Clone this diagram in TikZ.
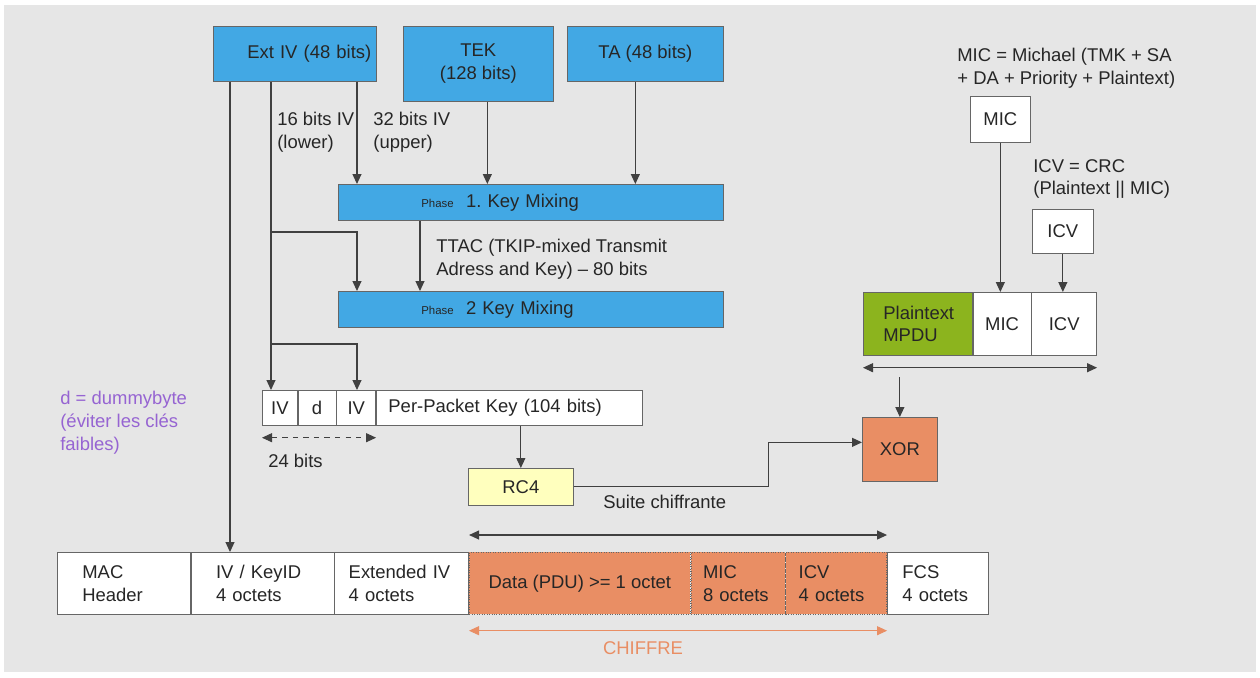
\documentclass[tikz,border=0pt]{standalone}
\usepackage{fontspec}
\setmainfont{Liberation Sans}
\usepackage{tikz}
\usetikzlibrary{arrows.meta, positioning}

\definecolor{keyblue}{RGB}{66,168,228}
\definecolor{cipherorange}{RGB}{233,142,100}
\definecolor{plaingreen}{RGB}{140,180,30}
\definecolor{rcyellow}{RGB}{255,255,190}
\definecolor{notepurple}{RGB}{150,100,210}
\definecolor{paper}{RGB}{230,230,230}
\newcommand{\diagfont}{\fontsize{10.5}{13}\selectfont}
\frenchspacing

\begin{document}
\begin{tikzpicture}[x=0.02cm, y=-0.02cm,
  lbl/.style={font=\diagfont, text=black!85, inner sep=0pt, align=left},
  keybox/.style={draw=black!60, fill=keyblue, font=\diagfont, text=black!85, inner sep=0pt, align=center, anchor=north west},
  plainbox/.style={draw=black!60, fill=white, font=\diagfont, text=black!85, inner sep=0pt, align=center, anchor=north west},
  pcell/.style={draw=black!60, fill=white, font=\diagfont, text=black!85, inner ysep=0pt, inner xsep=0pt, minimum height=0.7cm, align=left},
  fcell/.style={draw=black!60, fill=white, font=\diagfont, text=black!85, inner ysep=0pt, minimum height=1.24cm, align=left},
  ccell/.style={fcell, fill=cipherorange, densely dotted},
  mcell/.style={draw=black!60, fill=white, font=\diagfont, text=black!85, inner ysep=0pt, minimum height=1.26cm, align=left},
  arr/.style={-{Triangle[length=2mm, width=1.8mm]}, draw=black!75, line width=0.6pt},
  darr/.style={{Triangle[length=2mm, width=1.8mm]}-{Triangle[length=2mm, width=1.8mm]}, draw=black!75, line width=0.6pt},
  cdarr/.style={{Triangle[length=2mm, width=1.8mm]}-{Triangle[length=2mm, width=1.8mm]}, draw=cipherorange, line width=0.5pt},
  bitsarr/.style={{Triangle[length=2mm, width=1.8mm]}-{Triangle[length=2mm, width=1.8mm]}, draw=black!75, line width=0.5pt, dashed}
]
  \useasboundingbox (0,0) rectangle (1260,677);
  \fill[paper] (4,5) rectangle (1256,672);

  % Key inputs
  \node[keybox, minimum width=3.26cm, minimum height=1.1cm, text width=3.06cm, inner xsep=0.1cm, align=right] (extiv) at (213,26) {Ext IV (48 bits)};
  \node[keybox, minimum width=3cm, minimum height=1.5cm] (tek) at (403,26) {TEK\\(128 bits)};
  \node[keybox, minimum width=3.12cm, minimum height=1.1cm] (ta) at (567,26) {TA (48 bits)};

  % Key mixing phases
  \node[keybox, minimum height=0.72cm, text width=4.38cm, inner xsep=1.66cm, align=left] (phase1) at (338,184) {{\fontsize{6.5}{7}\selectfont Phase}\ \ 1. Key Mixing};
  \node[keybox, minimum height=0.72cm, text width=4.38cm, inner xsep=1.66cm, align=left] (phase2) at (338,291) {{\fontsize{6.5}{7}\selectfont Phase}\ \ 2 Key Mixing};

  % Per-packet key
  \node[pcell, minimum width=0.7cm, align=center, anchor=north west] (iva) at (262,390) {IV};
  \node[pcell, minimum width=0.76cm, align=center, right=0pt of iva] (dd) {d};
  \node[pcell, minimum width=0.78cm, align=center, right=0pt of dd] (ivb) {IV};
  \node[pcell, text width=4.84cm, inner xsep=0.24cm, right=0pt of ivb] (ppk) {Per-Packet Key (104 bits)};

  \node[plainbox, fill=rcyellow, minimum width=2.1cm, minimum height=0.74cm] (rc4) at (468,468) {RC4};
  \node[plainbox, fill=cipherorange, minimum width=1.5cm, minimum height=1.28cm] (xor) at (862,417) {XOR};

  % MIC / ICV side
  \node[plainbox, minimum width=1.2cm, minimum height=0.92cm] (micbox) at (970,96) {MIC};
  \node[plainbox, minimum width=1.22cm, minimum height=0.88cm] (icvbox) at (1032,209) {ICV};
  \node[mcell, fill=plaingreen, text width=1.38cm, inner xsep=0.4cm, anchor=north west] (pmpdu) at (863,292) {Plaintext\\MPDU};
  \node[mcell, minimum width=1.16cm, inner xsep=0pt, align=center, right=0pt of pmpdu] (pmic) {MIC};
  \node[mcell, minimum width=1.3cm, inner xsep=0pt, align=center, right=0pt of pmic] (picv) {ICV};

  % Frame
  \node[fcell, text width=1.66cm, inner xsep=0.5cm, anchor=north west] (mac) at (57,552) {MAC\\Header};
  \node[fcell, text width=1.86cm, inner xsep=0.5cm, right=0pt of mac] (ivkey) {IV / KeyID\\4 octets};
  \node[fcell, text width=2.12cm, inner xsep=0.28cm, right=0pt of ivkey] (extivc) {Extended IV\\4 octets};
  \node[ccell, minimum width=4.42cm, inner xsep=0pt, align=center, right=0pt of extivc] (data) {Data (PDU) >= 1 octet};
  \node[ccell, text width=1.4cm, inner xsep=0.24cm, right=0pt of data] (mic8) {MIC\\8 octets};
  \node[ccell, text width=1.5cm, inner xsep=0.26cm, right=0pt of mic8] (icv4) {ICV\\4 octets};
  \node[fcell, text width=1.42cm, inner xsep=0.3cm, right=0pt of icv4] (fcs) {FCS\\4 octets};

  % Labels
  \node[lbl, anchor=west] (lowlbl) at (277,132) {16 bits IV\\(lower)};
  \node[lbl, anchor=west] (uplbl) at (373,132) {32 bits IV\\(upper)};
  \node[lbl, anchor=west] (ttaclbl) at (436,259) {TTAC (TKIP-mixed Transmit\\Adress and Key) -- 80 bits};
  \node[lbl, anchor=west] (bitslbl) at (268,461) {24 bits};
  \node[lbl, anchor=west] (suite) at (603,502) {Suite chiffrante};
  \node[lbl, anchor=west, text=notepurple] (dummy) at (60,423) {d = dummybyte\\(éviter les clés\\faibles)};
  \node[lbl, anchor=west] (micdef) at (957,68) {MIC = Michael (TMK + SA\\+ DA + Priority + Plaintext)};
  \node[lbl, anchor=west] (icvdef) at (1033,179) {ICV = CRC\\(Plaintext || MIC)};
  \node[lbl, text=cipherorange] (chiffre) at (643,648) {CHIFFRE};

  % Ext IV split
  \coordinate (iv48) at ([xshift=0.34cm]extiv.south west);
  \coordinate (iv16) at ([xshift=1.16cm]extiv.south west);
  \coordinate (iv32) at ([xshift=2.88cm]extiv.south west);
  \coordinate (br1) at (iv16 |- 0,232);
  \coordinate (br2) at (iv16 |- 0,344);
  \draw[arr] (iv48) -- (iv48 |- ivkey.north);
  \draw[arr] (iv16) -- (iv16 |- iva.north);
  \draw[arr] (iv32) -- (iv32 |- phase1.north);
  \draw[arr] (br1) -| (iv32 |- phase2.north);
  \draw[arr] (br2) -| (iv32 |- ivb.north);

  % Phase inputs
  \coordinate (tekout) at ([xshift=0.18cm]tek.south);
  \coordinate (taout) at ([xshift=-0.2cm]ta.south);
  \coordinate (ttac) at ([xshift=1.64cm]phase1.south west);
  \draw[arr] (tekout) -- (tekout |- phase1.north);
  \draw[arr] (taout) -- (taout |- phase1.north);
  \draw[arr] (ttac) -- (ttac |- phase2.north);

  \draw[bitsarr] ([yshift=-0.24cm]iva.south west) -- ([yshift=-0.24cm]ivb.south east);

  % Keystream
  \coordinate (kbend) at ([xshift=3.9cm]rc4.east);
  \draw[arr] (ppk.south -| rc4.north) -- (rc4.north);
  \draw[arr] (rc4.east) -- (kbend) |- ([yshift=0.14cm]xor.west);

  % MIC / ICV
  \draw[arr] (micbox.south) -- (micbox.south |- pmic.north);
  \draw[arr] (icvbox.south) -- (icvbox.south |- picv.north);
  \draw[darr] ([yshift=-0.24cm]pmpdu.south west) -- ([yshift=-0.24cm]picv.south east);
  \coordinate (xin) at (xor.north |- 0,377);
  \draw[arr] (xin) -- (xor.north);

  % Encrypted span
  \draw[darr] ([yshift=0.34cm]data.north west) -- ([yshift=0.34cm]icv4.north east);
  \draw[cdarr] ([yshift=-0.32cm]data.south west) -- ([yshift=-0.32cm]icv4.south east);
\end{tikzpicture}
\end{document}
